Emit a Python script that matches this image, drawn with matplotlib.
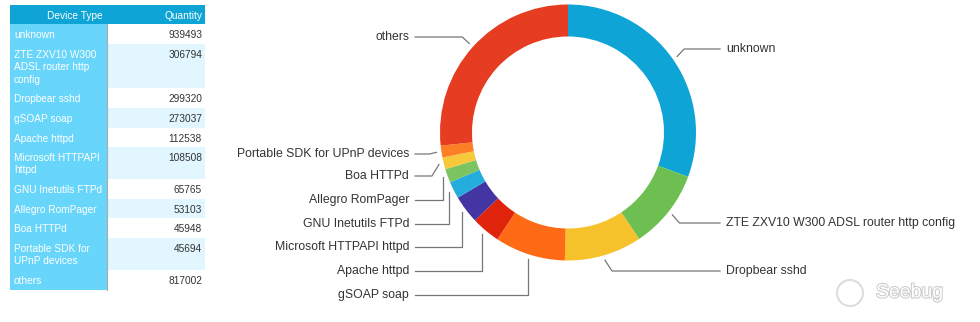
import matplotlib.pyplot as plt
import matplotlib.patheffects as pe
from matplotlib.patches import Rectangle, Circle
import numpy as np

plt.rcParams['font.family'] = ['Liberation Sans', 'DejaVu Sans']

# data
devices = ['unknown', 'ZTE ZXV10 W300 ADSL router http config', 'Dropbear sshd',
           'gSOAP soap', 'Apache httpd', 'Microsoft HTTPAPI httpd', 'GNU Inetutils FTPd',
           'Allegro RomPager', 'Boa HTTPd', 'Portable SDK for UPnP devices', 'others']
quantity = [939493, 306794, 299320, 273037, 112538, 108508, 65765, 53103, 45948, 45694, 817002]
table_names = ['unknown', 'ZTE ZXV10 W300\nADSL router http\nconfig', 'Dropbear sshd',
               'gSOAP soap', 'Apache httpd', 'Microsoft HTTPAPI\nhttpd', 'GNU Inetutils FTPd',
               'Allegro RomPager', 'Boa HTTPd', 'Portable SDK for\nUPnP devices', 'others']
colors = ['#0ea4d6', '#6dbf52', '#f6c22c', '#fe6a15', '#e0230b', '#4336a3',
          '#24acdc', '#7cc462', '#f6c83a', '#fd7f25', '#e53c22']

W, H = 980, 322
fig = plt.figure(figsize=(9.8, 3.22), dpi=100)
ax = fig.add_axes([0, 0, 1, 1])
ax.set_xlim(0, W)
ax.set_ylim(0, H)
ax.set_aspect('equal')
ax.axis('off')

def Y(y):
    # pixel row from top -> axes y
    return H - y

# ---- table ----
tx0, tx1, tx2 = 10, 107, 205
row_h = [20, 44, 20, 20, 19, 32, 20, 19, 20, 32, 20]
ax.add_patch(Rectangle((tx0, Y(24)), tx2 - tx0, 19, color='#0ea4d6', lw=0))
ax.text(75, Y(15.5), 'Device Type', color='white', fontsize=7.3,
        ha='center', va='center')
ax.text(tx2 - 3, Y(15.5), 'Quantity', color='white', fontsize=7.3, ha='right', va='center')
top = 24
for i, (name, q) in enumerate(zip(table_names, quantity)):
    h = row_h[i]
    ax.add_patch(Rectangle((tx0, Y(top + h)), tx1 - tx0, h, color='#68d5fa', lw=0))
    bg = 'white' if i % 2 == 0 else '#e1f6fe'
    ax.add_patch(Rectangle((tx1, Y(top + h)), tx2 - tx1, h, color=bg, lw=0))
    ax.text(tx0 + 4, Y(top + 6), name, color='white', fontsize=7.3, ha='left', va='top',
            linespacing=1.3)
    ax.text(tx2 - 3, Y(top + 6), str(q), color='#333333', fontsize=7.3, ha='right', va='top')
    top += h
ax.plot([tx1, tx1], [Y(24), Y(top)], color='#aaaaaa', lw=0.8)

# ---- donut ----
cx, cy, R = 568, Y(132.5), 128
wedges, _ = ax.pie(quantity, colors=colors, startangle=90, counterclock=False,
                   center=(cx, cy), radius=R, wedgeprops=dict(width=32, linewidth=0))
ax.set_xlim(0, W)
ax.set_ylim(0, H)

# label rows (pixels from top)
label_y = [49, 223, 271, 295, 271, 247, 224, 200, 176, 154, 37]
for w, name, ly in zip(wedges, devices, label_y):
    ang = np.deg2rad((w.theta1 + w.theta2) / 2)
    px, py = cx + (R + 5) * np.cos(ang), cy + (R + 5) * np.sin(ang)
    lyy = Y(ly)
    right = np.cos(ang) > 0
    if abs(py - lyy) < 12:
        ex = px + (7 if right else -7)
        pts = [(px, py), (ex, lyy)]
    else:
        pts = [(px, py), (px, lyy)]
    if right:
        pts.append((720, lyy))
        ax.text(726, lyy, name, fontsize=8.8, color='#333333', ha='left', va='center')
    else:
        pts.append((415, lyy))
        ax.text(409, lyy, name, fontsize=8.8, color='#333333', ha='right', va='center')
    xs, ys = zip(*pts)
    ax.plot(xs, ys, color='#777777', lw=0.9)

# watermark
ax.add_patch(Circle((850, Y(293)), 13, fill=False, ec='#dddddd', lw=1.5))
ax.text(876, Y(293), 'Seebug', fontsize=14, color='white', ha='left', va='center',
        path_effects=[pe.withStroke(linewidth=1.5, foreground='#cccccc')])

fig.savefig('out.png', dpi=100)
